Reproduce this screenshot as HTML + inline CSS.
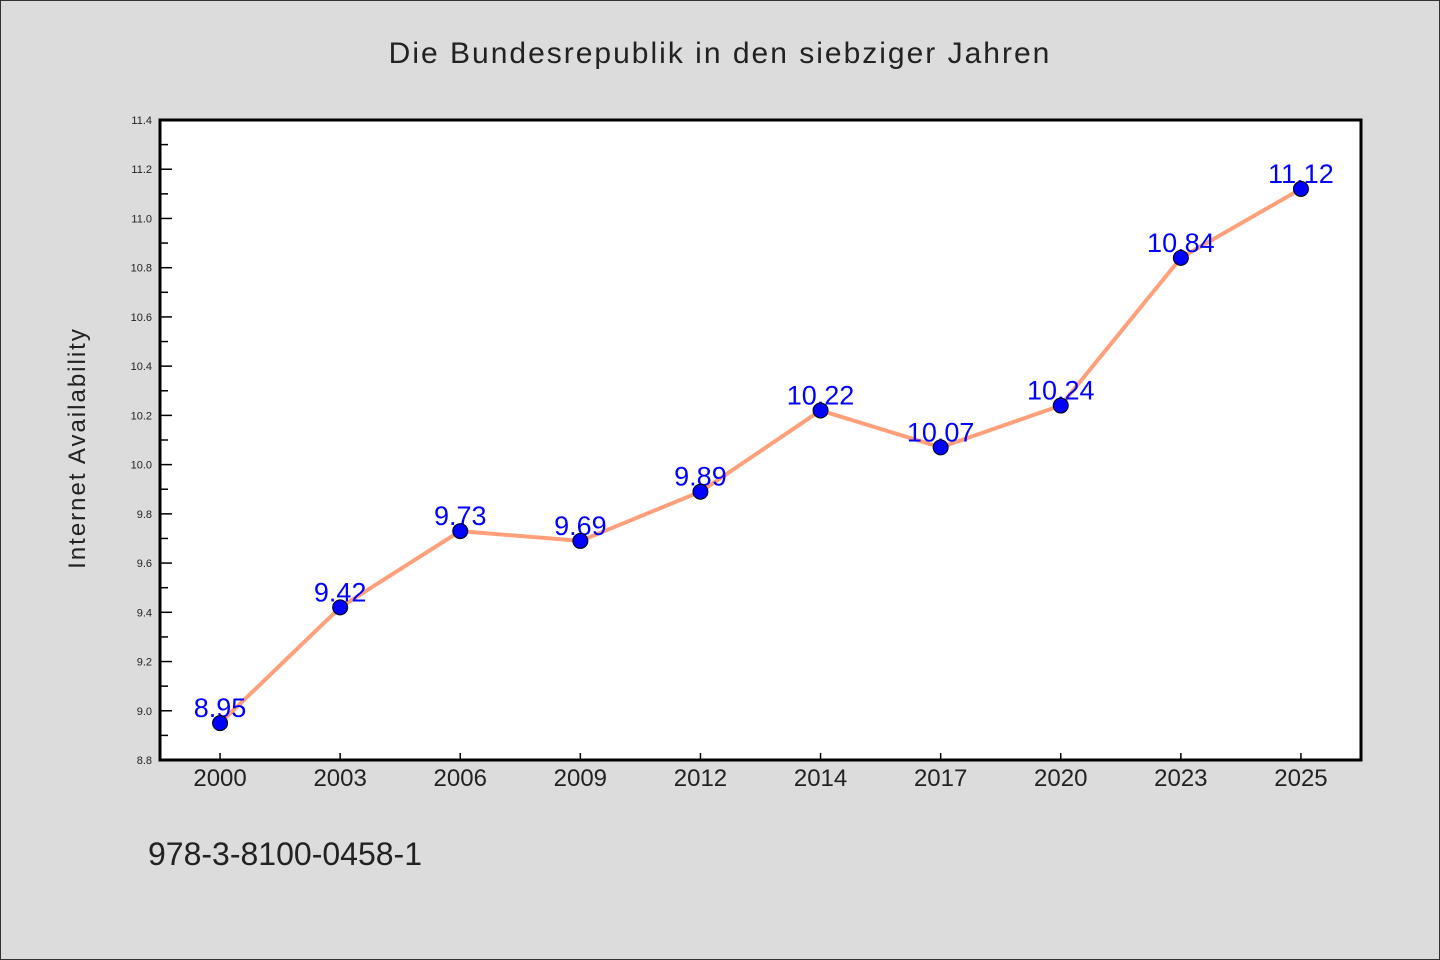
<!DOCTYPE html>
<html><head><meta charset="utf-8"><style>
html,body{margin:0;padding:0;background:#dcdcdc}
svg{display:block}
text{font-family:"WenQuanYi Zen Hei","Liberation Sans",sans-serif}
</style></head><body>
<svg id="chart" width="1440" height="960" xmlns="http://www.w3.org/2000/svg">
<rect x="0.5" y="0.5" width="1439" height="959" fill="#dcdcdc" stroke="#333"/>
<text x="720" y="63" text-anchor="middle" font-size="30" fill="#222" letter-spacing="2">Die Bundesrepublik in den siebziger Jahren</text>
<rect x="160" y="120" width="1201" height="640" fill="#fff"/>
<g id="ticks"></g>
<g id="series"></g>
<rect x="160" y="120" width="1201" height="640" fill="none" stroke="#000" stroke-width="3"/>
<text transform="translate(85,448) rotate(-90)" text-anchor="middle" font-size="24" fill="#222" letter-spacing="2">Internet Availability</text>
<text x="148" y="865" font-size="32" fill="#222">978-3-8100-0458-1</text>
</svg>
<script>
const categories=["2000","2003","2006","2009","2012","2014","2017","2020","2023","2025"];
const values=[8.95,9.42,9.73,9.69,9.89,10.22,10.07,10.24,10.84,11.12];
const valueLabels=["8.95","9.42","9.73","9.69","9.89","10.22","10.07","10.24","10.84","11.12"];
const yTicks=[8.8,9.0,9.2,9.4,9.6,9.8,10.0,10.2,10.4,10.6,10.8,11.0,11.2,11.4];
const yTickLabels=["8.8","9.0","9.2","9.4","9.6","9.8","10.0","10.2","10.4","10.6","10.8","11.0","11.2","11.4"];
const NS="http://www.w3.org/2000/svg";
const L=160,R=1361,T=120,B=760,yMin=8.8,yMax=11.4;
const band=(R-L)/categories.length;
function x(i){return L+band*(i+0.5);}
function y(v){return B-(v-yMin)/(yMax-yMin)*(B-T);}
function mk(tag,attrs,parent){const e=document.createElementNS(NS,tag);for(const k in attrs)e.setAttribute(k,attrs[k]);parent.appendChild(e);return e;}
const tg=document.getElementById('ticks'),sg=document.getElementById('series');
yTicks.forEach((v,i)=>{
 const l=mk('line',{x1:L,x2:L+12,y1:y(v),y2:y(v),stroke:'#000','stroke-width':1.5},tg);
 
 
 const t=mk('text',{x:L-8,y:y(v)+4,'text-anchor':'end','font-size':11,fill:'#222'},tg);
 t.textContent=yTickLabels[i];
 
 
 if(i<yTicks.length-1){
  const m=mk('line',{x1:L,x2:L+8,y1:y(v+0.1),y2:y(v+0.1),stroke:'#000','stroke-width':1.5},tg);
  
  
 }
});
categories.forEach((c,i)=>{
 const l=mk('line',{x1:x(i),x2:x(i),y1:B,y2:B-7,stroke:'#000','stroke-width':1.5},tg);
 
 
 const t=mk('text',{x:x(i),y:B+26,'text-anchor':'middle','font-size':24,fill:'#222'},tg);
 t.textContent=c;
 
 
});
const line=mk('polyline',{points:values.map((v,i)=>x(i)+','+y(v)).join(' '),fill:'none',stroke:'#ffa07a','stroke-width':4,'stroke-linejoin':'round'},sg);


values.forEach((v,i)=>{
 const t=mk('text',{x:x(i),y:y(v)-6,'text-anchor':'middle','font-size':27,fill:'#0000ff'},sg);
 t.textContent=valueLabels[i];
 
 
});
values.forEach((v,i)=>{
 const c=mk('circle',{cx:x(i),cy:y(v),r:7.5,fill:'#0000ff',stroke:'#000','stroke-width':1},sg);
 
 
});
</script>
</body></html>
